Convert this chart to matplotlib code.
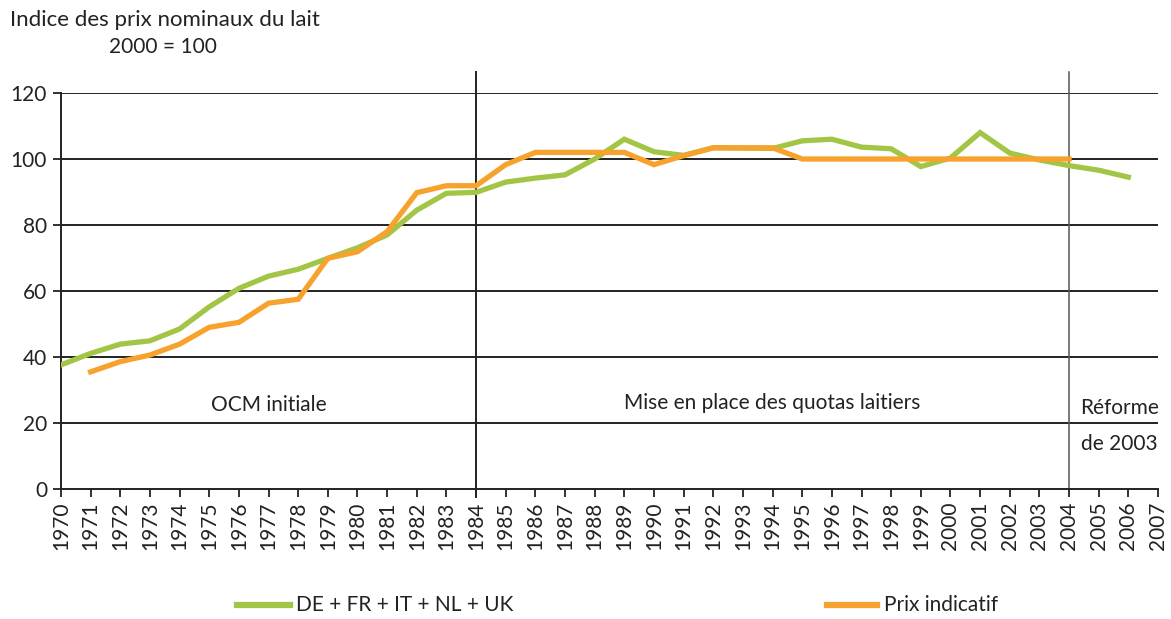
import numpy as np
import matplotlib
matplotlib.use('Agg')
import matplotlib.pyplot as plt

plt.rcParams['font.family'] = ['Lato', 'DejaVu Sans']

# years
annees = list(range(1970, 2007))
annees_prix = list(range(1971, 2005))

# DE + FR + IT + NL + UK (2000 = 100)
indice_ue5 = [37.6, 41.1, 43.9, 44.9, 48.5, 55.2, 60.8, 64.5, 66.6, 69.9,
              73.1, 77.0, 84.5, 89.6, 89.9, 93.0, 94.2, 95.2, 100.0, 106.0,
              102.2, 101.1, 103.4, 103.3, 103.2, 105.5, 106.0, 103.6, 103.1, 97.7,
              100.3, 108.0, 101.8, 99.7, 98.0, 96.6, 94.5]

# Prix indicatif
prix_indicatif = [35.5, 38.6, 40.6, 43.9, 49.0, 50.5, 56.3, 57.5, 69.9,
                  71.9, 78.0, 89.8, 91.9, 91.9, 98.3, 102.0, 102.0, 102.0, 102.0,
                  98.3, 101.0, 103.4, 103.4, 103.4, 100.0, 100.0, 100.0, 100.0,
                  100.0, 100.0, 100.0, 100.0, 100.0, 100.0]

periodes = [1984, 2004]
yticks = [0, 20, 40, 60, 80, 100, 120]
xticks = list(range(1970, 2008))

vert = '#a3c546'
orange = '#f6a22d'
fs = 15

fig = plt.figure(figsize=(11.71, 6.19), dpi=100)
ax = fig.add_axes([61 / 1171, 1 - 489 / 619, (1158 - 61) / 1171, (489 - 93) / 619])

ax.plot(annees, indice_ue5, color=vert, lw=3.8, solid_joinstyle='miter', zorder=3)
ax.plot(annees_prix, prix_indicatif, color=orange, lw=3.8, solid_joinstyle='miter', zorder=4)

ax.set_xlim(1970, 2007)
ax.set_ylim(0, 120)
ax.set_yticks(yticks)
ax.set_xticks(xticks)
ax.set_xticklabels([str(a) for a in xticks], rotation=90)
ax.tick_params(axis='both', direction='out', length=6, width=1.3, color='#222222',
               labelsize=fs, labelcolor='#222222')
ax.tick_params(axis='y', pad=4)
ax.tick_params(axis='x', pad=3)

for y in yticks[1:]:
    ax.axhline(y, color='#222222', lw=1.4, zorder=2)

for s in ['top', 'right']:
    ax.spines[s].set_visible(False)
for s in ['left', 'bottom']:
    ax.spines[s].set_color('#222222')
    ax.spines[s].set_linewidth(1.4)

# period separators
ax.plot([periodes[0], periodes[0]], [-2.5, 126.5], color='#222222', lw=1.4, clip_on=False, zorder=2)
ax.plot([periodes[1], periodes[1]], [0, 126.5], color='#555555', lw=1.1, clip_on=False, zorder=2)

ax.text(1977, 25.5, 'OCM initiale', ha='center', va='center', fontsize=fs, color='#222222')
ax.text(1994, 26, 'Mise en place des quotas laitiers', ha='center', va='center',
        fontsize=fs, color='#222222')
ax.text(2005.7, 24.5, 'Réforme', ha='center', va='center', fontsize=fs, color='#222222')
ax.text(2005.7, 13.5, 'de 2003', ha='center', va='center', fontsize=fs, color='#222222')

fig.text(10 / 1171, 1 - 20 / 619, 'Indice des prix nominaux du lait', ha='left', va='center',
         fontsize=16, color='#222222')
fig.text(163 / 1171, 1 - 47 / 619, '2000 = 100', ha='center', va='center',
         fontsize=fs, color='#222222')

# legend
fig.add_artist(plt.Line2D([237 / 1171, 290 / 1171], [1 - 605 / 619, 1 - 605 / 619],
                          color=vert, lw=4.5))
fig.text(296 / 1171, 1 - 605 / 619, 'DE + FR + IT + NL + UK', ha='left', va='center',
         fontsize=fs, color='#222222')
fig.add_artist(plt.Line2D([827 / 1171, 877 / 1171], [1 - 605 / 619, 1 - 605 / 619],
                          color=orange, lw=4.5))
fig.text(884 / 1171, 1 - 605 / 619, 'Prix indicatif', ha='left', va='center',
         fontsize=fs, color='#222222')

fig.savefig('out.png', dpi=100)
